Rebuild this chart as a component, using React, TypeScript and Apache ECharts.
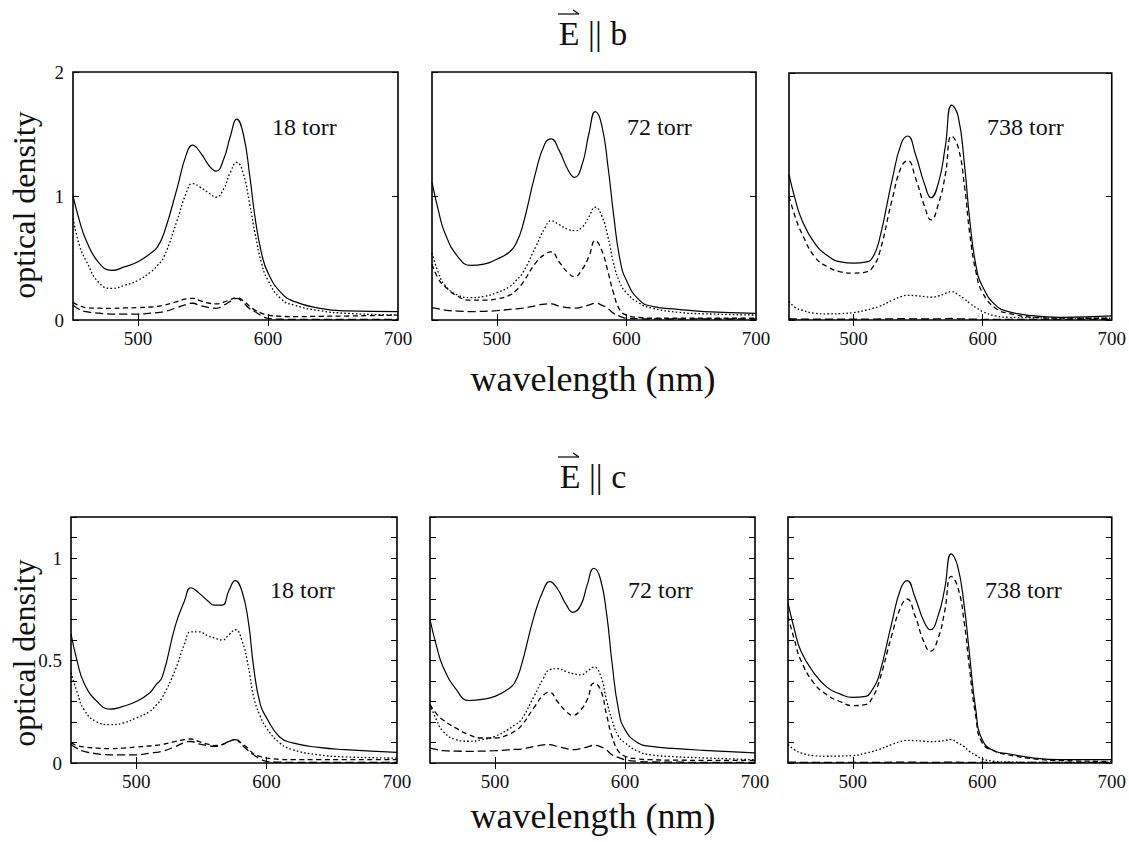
import React, { useEffect, useRef } from "react";
import * as echarts from "echarts";

// wavelength sample points (nm)
const WL = [450, 455, 460, 470, 480, 490, 500, 510, 515, 520, 530, 537, 542, 548, 555, 560, 566, 571, 576, 581, 586, 590, 595, 600, 610, 620, 640, 660, 700];

const X_TICKS = [500, 600];
const X_LABELS = [500, 600, 700];
const PRESSURES = ["18 torr", "72 torr", "738 torr"];

// E || b, 18 torr
const b18Total = [1.0, 0.8, 0.645, 0.46, 0.4, 0.43, 0.47, 0.54, 0.59, 0.7, 1.06, 1.33, 1.41, 1.35, 1.24, 1.2, 1.3, 1.48, 1.62, 1.5, 1.16, 0.83, 0.54, 0.38, 0.22, 0.15, 0.094, 0.073, 0.067];
const b18Dot = [0.82, 0.6, 0.48, 0.3, 0.255, 0.28, 0.32, 0.39, 0.44, 0.51, 0.8, 1.02, 1.1, 1.07, 1.02, 0.99, 1.06, 1.19, 1.27, 1.18, 0.93, 0.7, 0.46, 0.32, 0.17, 0.12, 0.075, 0.054, 0.04];
const b18DashA = [0.14, 0.115, 0.1, 0.095, 0.094, 0.097, 0.1, 0.105, 0.11, 0.12, 0.148, 0.17, 0.175, 0.155, 0.135, 0.13, 0.145, 0.165, 0.18, 0.155, 0.11, 0.08, 0.055, 0.04, 0.03, 0.027, 0.03, 0.032, 0.04];
const b18DashB = [0.12, 0.085, 0.067, 0.055, 0.048, 0.048, 0.048, 0.055, 0.06, 0.067, 0.1, 0.125, 0.135, 0.115, 0.1, 0.094, 0.12, 0.15, 0.175, 0.14, 0.09, 0.067, 0.035, 0.013, 0.006, 0.005, 0.005, 0.005, 0.005];

// E || b, 72 torr
const b72Total = [1.11, 0.88, 0.7, 0.51, 0.44, 0.45, 0.49, 0.55, 0.62, 0.76, 1.19, 1.42, 1.46, 1.37, 1.21, 1.15, 1.26, 1.5, 1.68, 1.57, 1.22, 0.86, 0.49, 0.32, 0.16, 0.11, 0.086, 0.068, 0.054];
const b72Dot = [0.54, 0.38, 0.28, 0.2, 0.18, 0.19, 0.22, 0.27, 0.32, 0.38, 0.59, 0.74, 0.8, 0.77, 0.73, 0.72, 0.75, 0.83, 0.91, 0.84, 0.66, 0.46, 0.3, 0.22, 0.135, 0.095, 0.062, 0.05, 0.04];
const b72DashA = [0.45, 0.33, 0.27, 0.19, 0.16, 0.16, 0.17, 0.2, 0.24, 0.3, 0.46, 0.53, 0.55, 0.47, 0.38, 0.35, 0.41, 0.51, 0.64, 0.56, 0.38, 0.22, 0.08, 0.04, 0.02, 0.014, 0.014, 0.014, 0.014];
const b72DashB = [0.1, 0.09, 0.08, 0.072, 0.068, 0.07, 0.075, 0.085, 0.09, 0.095, 0.115, 0.128, 0.13, 0.112, 0.1, 0.095, 0.105, 0.12, 0.135, 0.12, 0.09, 0.054, 0.03, 0.014, 0.01, 0.008, 0.008, 0.008, 0.008];

// E || b, 738 torr
const b738Total = [1.18, 0.97, 0.81, 0.62, 0.52, 0.47, 0.46, 0.47, 0.51, 0.65, 1.14, 1.43, 1.49, 1.34, 1.1, 0.99, 1.12, 1.4, 1.74, 1.65, 1.25, 0.81, 0.43, 0.27, 0.12, 0.068, 0.033, 0.022, 0.033];
const b738Dash = [1.0, 0.83, 0.7, 0.51, 0.43, 0.39, 0.38, 0.39, 0.43, 0.54, 0.98, 1.24, 1.29, 1.15, 0.92, 0.81, 0.95, 1.17, 1.49, 1.4, 1.08, 0.7, 0.38, 0.22, 0.095, 0.054, 0.022, 0.015, 0.014];
const b738Dot = [0.15, 0.1, 0.08, 0.054, 0.049, 0.052, 0.06, 0.08, 0.095, 0.11, 0.16, 0.19, 0.2, 0.197, 0.19, 0.185, 0.195, 0.215, 0.23, 0.205, 0.17, 0.135, 0.1, 0.068, 0.033, 0.022, 0.018, 0.015, 0.014];
const b738DashB = [0.01, 0.008, 0.007, 0.006, 0.006, 0.006, 0.006, 0.007, 0.007, 0.008, 0.009, 0.01, 0.01, 0.009, 0.008, 0.008, 0.009, 0.011, 0.012, 0.01, 0.008, 0.007, 0.006, 0.005, 0.005, 0.005, 0.005, 0.005, 0.005];

// E || c, 18 torr
const c18Total = [0.63, 0.49, 0.39, 0.3, 0.263, 0.276, 0.3, 0.34, 0.38, 0.42, 0.67, 0.79, 0.855, 0.83, 0.79, 0.77, 0.77, 0.84, 0.89, 0.84, 0.69, 0.47, 0.29, 0.22, 0.127, 0.098, 0.076, 0.065, 0.052];
const c18Dot = [0.44, 0.34, 0.26, 0.2, 0.187, 0.195, 0.22, 0.25, 0.28, 0.32, 0.455, 0.58, 0.64, 0.64, 0.62, 0.61, 0.6, 0.625, 0.65, 0.6, 0.47, 0.325, 0.23, 0.17, 0.098, 0.065, 0.04, 0.03, 0.024];
const c18DashA = [0.098, 0.085, 0.078, 0.073, 0.07, 0.073, 0.078, 0.083, 0.086, 0.09, 0.105, 0.114, 0.117, 0.105, 0.092, 0.085, 0.09, 0.105, 0.114, 0.095, 0.07, 0.045, 0.032, 0.024, 0.018, 0.016, 0.016, 0.016, 0.016];
const c18DashB = [0.09, 0.07, 0.057, 0.045, 0.04, 0.04, 0.04, 0.047, 0.052, 0.057, 0.08, 0.1, 0.105, 0.093, 0.085, 0.081, 0.09, 0.105, 0.114, 0.088, 0.06, 0.04, 0.02, 0.008, 0.004, 0.003, 0.003, 0.003, 0.003];

// E || c, 72 torr
const c72Total = [0.7, 0.57, 0.47, 0.36, 0.305, 0.31, 0.325, 0.36, 0.39, 0.47, 0.715, 0.84, 0.885, 0.85, 0.77, 0.735, 0.77, 0.87, 0.95, 0.9, 0.72, 0.49, 0.26, 0.163, 0.098, 0.081, 0.07, 0.062, 0.049];
const c72Dot = [0.285, 0.21, 0.155, 0.114, 0.106, 0.114, 0.13, 0.163, 0.185, 0.21, 0.325, 0.41, 0.455, 0.46, 0.445, 0.436, 0.43, 0.447, 0.468, 0.43, 0.3, 0.21, 0.13, 0.098, 0.057, 0.04, 0.03, 0.025, 0.016];
const c72DashA = [0.285, 0.24, 0.21, 0.17, 0.138, 0.122, 0.122, 0.138, 0.155, 0.18, 0.27, 0.33, 0.345, 0.3, 0.25, 0.233, 0.26, 0.31, 0.39, 0.36, 0.23, 0.13, 0.057, 0.033, 0.02, 0.016, 0.014, 0.013, 0.013];
const c72DashB = [0.073, 0.066, 0.06, 0.058, 0.057, 0.058, 0.06, 0.064, 0.066, 0.068, 0.08, 0.088, 0.09, 0.08, 0.07, 0.065, 0.07, 0.078, 0.086, 0.08, 0.062, 0.04, 0.027, 0.016, 0.008, 0.005, 0.004, 0.003, 0.003];

// E || c, 738 torr
const c738Total = [0.78, 0.65, 0.545, 0.44, 0.37, 0.337, 0.32, 0.325, 0.357, 0.42, 0.68, 0.85, 0.89, 0.81, 0.69, 0.65, 0.72, 0.85, 1.02, 0.96, 0.77, 0.54, 0.26, 0.114, 0.057, 0.045, 0.024, 0.016, 0.016];
const c738Dash = [0.715, 0.6, 0.5, 0.39, 0.333, 0.3, 0.28, 0.285, 0.317, 0.39, 0.62, 0.76, 0.8, 0.72, 0.59, 0.545, 0.61, 0.74, 0.91, 0.86, 0.69, 0.47, 0.228, 0.098, 0.057, 0.04, 0.02, 0.012, 0.008];
const c738Dot = [0.09, 0.065, 0.049, 0.036, 0.033, 0.034, 0.036, 0.048, 0.056, 0.065, 0.09, 0.105, 0.11, 0.109, 0.106, 0.104, 0.106, 0.11, 0.114, 0.098, 0.08, 0.057, 0.038, 0.02, 0.008, 0.005, 0.003, 0.003, 0.003];
const c738DashB = [0.004, 0.004, 0.003, 0.003, 0.003, 0.003, 0.003, 0.003, 0.003, 0.003, 0.004, 0.004, 0.004, 0.004, 0.003, 0.003, 0.003, 0.004, 0.004, 0.004, 0.003, 0.003, 0.003, 0.003, 0.003, 0.003, 0.003, 0.003, 0.003];

const SOLID = "solid";
const DOTTED = [1.6, 2.2];
const DASH_A = [5, 3.5];
const DASH_B = [8, 4];

// per panel: list of [values, line style]
const PANELS: [number[], any][][] = [
  [[b18Total, SOLID], [b18Dot, DOTTED], [b18DashA, DASH_A], [b18DashB, DASH_B]],
  [[b72Total, SOLID], [b72Dot, DOTTED], [b72DashA, DASH_A], [b72DashB, DASH_B]],
  [[b738Total, SOLID], [b738Dash, DASH_A], [b738Dot, DOTTED], [b738DashB, DASH_B]],
  [[c18Total, SOLID], [c18Dot, DOTTED], [c18DashA, DASH_A], [c18DashB, DASH_B]],
  [[c72Total, SOLID], [c72Dot, DOTTED], [c72DashA, DASH_A], [c72DashB, DASH_B]],
  [[c738Total, SOLID], [c738Dash, DASH_A], [c738Dot, DOTTED], [c738DashB, DASH_B]],
];

const GRIDS = [
  { left: 73, top: 72, width: 325, height: 248 },
  { left: 432, top: 72, width: 324, height: 248 },
  { left: 789, top: 73, width: 325, height: 247 },
  { left: 71, top: 517, width: 326, height: 246 },
  { left: 430, top: 517, width: 325, height: 246 },
  { left: 788, top: 517, width: 325, height: 246 },
];

const FONT = "'Liberation Serif', 'Times New Roman', serif";
const INK = "#111";

export default function App() {
  const ref = useRef<HTMLDivElement>(null);
  useEffect(() => {
    if (!ref.current) return;
    const chart = echarts.init(ref.current, undefined, { renderer: "svg" });

    const grid: any[] = [];
    const xAxis: any[] = [];
    const yAxis: any[] = [];
    const series: any[] = [];
    const tick = { inside: true, length: 6, lineStyle: { color: "#000", width: 1 } };

    GRIDS.forEach((g, i) => {
      const row = i < 3 ? 0 : 1;
      const col = i % 3;
      grid.push({ ...g, show: true, borderColor: "#000", borderWidth: 1.6, backgroundColor: "transparent", containLabel: false });
      const xBase = {
        type: "value", gridIndex: i, min: 450, max: 700,
        axisLine: { show: false }, splitLine: { show: false },
        axisTick: { ...tick, customValues: X_TICKS },
      };
      xAxis.push({
        ...xBase, position: "bottom",
        axisLabel: { show: true, customValues: X_LABELS, fontFamily: FONT, fontSize: 19, color: INK, margin: 9 },
      });
      xAxis.push({ ...xBase, position: "top", axisLabel: { show: false } });

      const yBase = {
        type: "value", gridIndex: i, min: 0,
        max: row === 0 ? 2 : 1.2, interval: row === 0 ? 1 : 0.1,
        axisLine: { show: false }, splitLine: { show: false },
        axisTick: { ...tick },
      };
      yAxis.push({
        ...yBase, position: "left",
        axisLabel: {
          show: col === 0, fontFamily: FONT, fontSize: 19, color: INK, margin: 9,
          formatter: (v: number) => {
            if (row === 0) return String(Math.round(v));
            if (Math.abs(v) < 1e-6) return "0";
            if (Math.abs(v - 0.5) < 1e-6) return "0.5";
            if (Math.abs(v - 1) < 1e-6) return "1";
            return "";
          },
        },
      });
      yAxis.push({ ...yBase, position: "right", axisLabel: { show: false } });

      PANELS[i].forEach(([vals, type]) => {
        series.push({
          type: "line", xAxisIndex: 2 * i, yAxisIndex: 2 * i,
          data: WL.map((w, k) => [w, vals[k]]),
          showSymbol: false, smooth: 0.5,
          lineStyle: { color: "#000", width: type === SOLID ? 1.2 : 1.3, type },
          silent: true,
        });
      });
    });

    const txt = (text: string, x: number, y: number, size: number, extra: any = {}) => ({
      type: "text", x, y, silent: true,
      style: { text, fontFamily: FONT, fontSize: size, fill: INK, align: "center", verticalAlign: "middle", ...extra },
    });

    const graphic: any[] = [];
    // titles with vector arrow over E
    [["b", 33, 14], ["c", 476, 457]].forEach(([ch, ym, ya]: any) => {
      graphic.push(txt(`E || ${ch}`, 593, ym, 34));
      graphic.push({ type: "line", silent: true, shape: { x1: 558, y1: ya, x2: 579, y2: ya }, style: { stroke: "#000", lineWidth: 1.2 } });
      graphic.push({ type: "line", silent: true, shape: { x1: 573, y1: ya - 4, x2: 579, y2: ya }, style: { stroke: "#000", lineWidth: 1.2 } });
    });
    graphic.push(txt("wavelength (nm)", 593, 379, 36));
    graphic.push(txt("wavelength (nm)", 593, 816, 36));
    graphic.push({ ...txt("optical density", 24, 205, 32), rotation: Math.PI / 2 });
    graphic.push({ ...txt("optical density", 24, 653, 32), rotation: Math.PI / 2 });
    const torrPos = [[272, 127], [627, 127], [987, 127], [270, 590], [628, 590], [985, 590]];
    torrPos.forEach(([x, y], i) => {
      graphic.push(txt(PRESSURES[i % 3], x, y, 24, { align: "left" }));
    });

    chart.setOption({
      animation: false,
      backgroundColor: "#fff",
      grid, xAxis, yAxis, series, graphic,
    });
    return () => chart.dispose();
  }, []);
  return <div ref={ref} style={{ position: "fixed", left: 0, top: 0, width: 1129, height: 842 }} />;
}
